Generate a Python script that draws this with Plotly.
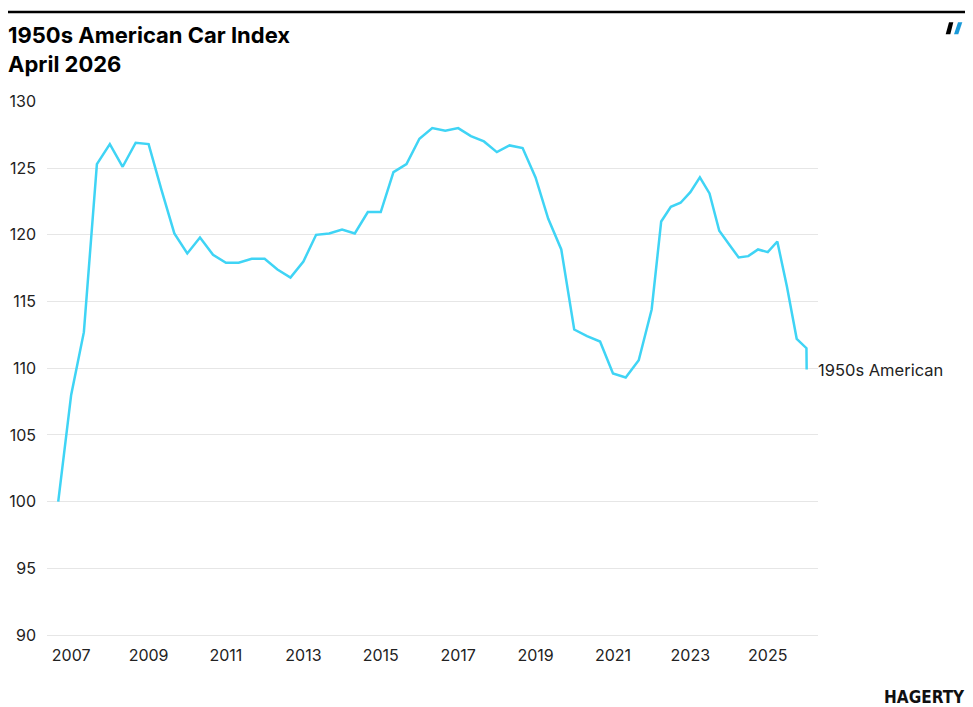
import plotly.graph_objects as go

# ---- data ----
dates = [
    "2006-09-01", "2007-01-01", "2007-05-01", "2007-09-01",
    "2008-01-01", "2008-05-01", "2008-09-01",
    "2009-01-01", "2009-05-01", "2009-09-01",
    "2010-01-01", "2010-05-01", "2010-09-01",
    "2011-01-01", "2011-05-01", "2011-09-01",
    "2012-01-01", "2012-05-01", "2012-09-01",
    "2013-01-01", "2013-05-01", "2013-09-01",
    "2014-01-01", "2014-05-01", "2014-09-01",
    "2015-01-01", "2015-05-01", "2015-09-01",
    "2016-01-01", "2016-05-01", "2016-09-01",
    "2017-01-01", "2017-05-01", "2017-09-01",
    "2018-01-01", "2018-05-01", "2018-09-01",
    "2019-01-01", "2019-05-01", "2019-09-01",
    "2020-01-01", "2020-05-01", "2020-09-01",
    "2021-01-01", "2021-05-01", "2021-09-01",
    "2022-01-01", "2022-04-01", "2022-07-01", "2022-10-01",
    "2023-01-01", "2023-04-01", "2023-07-01", "2023-10-01",
    "2024-01-01", "2024-04-01", "2024-07-01", "2024-10-01",
    "2025-01-01", "2025-04-01", "2025-07-01", "2025-10-01",
    "2026-01-01", "2026-01-03",
]
values = [
    100.0, 108.0, 112.7, 125.3,
    126.8, 125.1, 126.9,
    126.8, 123.4, 120.1,
    118.6, 119.8, 118.5,
    117.9, 117.9, 118.2,
    118.2, 117.4, 116.8,
    118.0, 120.0, 120.1,
    120.4, 120.1, 121.7,
    121.7, 124.7, 125.3,
    127.2, 128.0, 127.8,
    128.0, 127.4, 127.0,
    126.2, 126.7, 126.5,
    124.3, 121.2, 118.9,
    112.9, 112.4, 112.0,
    109.6, 109.3, 110.6,
    114.4, 121.0, 122.1, 122.4,
    123.2, 124.3, 123.1, 120.3,
    119.3, 118.3, 118.4, 118.9,
    118.7, 119.5, 116.1, 112.2,
    111.5, 109.9,
]
series_name = "1950s American"
title_lines = ["1950s American Car Index", "April 2026"]
y_ticks = [90, 95, 100, 105, 110, 115, 120, 125, 130]

# ---- layout helpers (page pixel -> paper); page has an 8px body offset ----
OFF = 8
W, H = 973, 707
L, R, T, B = 47 - OFF, 973 - 818 + OFF, 101 - OFF, 707 - 637 + OFF
PW, PH = W - L - R, H - T - B


def px(x):
    return (x - OFF - L) / PW


def py(y):
    return (H - B - (y - OFF)) / PH


fig = go.Figure()
fig.add_trace(go.Scatter(
    x=dates, y=values, mode="lines", name=series_name,
    line=dict(color="#3fd4f5", width=2.5),
    showlegend=False, hoverinfo="x+y",
))

fig.add_annotation(
    x=dates[-1], y=values[-1], xref="x", yref="y",
    text=series_name, showarrow=False, xanchor="left", yanchor="middle",
    xshift=9, font=dict(family="Inter", size=16.5, color="#222222"),
)

# title
fig.add_annotation(
    xref="paper", yref="paper", x=px(6), y=py(20),
    xanchor="left", yanchor="top", align="left", showarrow=False,
    text="<b>" + title_lines[0] + "</b><br><b>" + title_lines[1] + "</b>",
    font=dict(family="Inter", size=22, color="#000000"),
)

# HAGERTY wordmark
fig.add_annotation(
    xref="paper", yref="paper", x=px(967), y=py(697),
    xanchor="right", yanchor="middle", showarrow=False,
    text="<b>HAGERTY</b>",
    font=dict(family="DejaVu Sans Condensed, Liberation Sans Narrow, Liberation Sans",
              size=17, color="#111111"),
)

shapes = [
    dict(type="line", xref="paper", yref="paper",
         x0=px(8), x1=px(965), y0=py(12), y1=py(12),
         line=dict(color="#000000", width=2.5)),
    dict(type="path", xref="paper", yref="paper",
         path=f"M {px(945.7)} {py(34.3)} L {px(949)} {py(22.3)} L {px(953.3)} {py(22.3)} L {px(950.3)} {py(34.3)} Z",
         fillcolor="#000000", line=dict(width=0)),
    dict(type="path", xref="paper", yref="paper",
         path=f"M {px(954)} {py(34.3)} L {px(958)} {py(22.3)} L {px(962.3)} {py(22.3)} L {px(958.3)} {py(34.3)} Z",
         fillcolor="#1a9ad9", line=dict(width=0)),
]

fig.update_layout(
    width=W, height=H,
    margin=dict(l=L, r=R, t=T, b=B, autoexpand=False),
    paper_bgcolor="white", plot_bgcolor="white",
    shapes=shapes,
    font=dict(family="Inter", size=16, color="#222222"),
    xaxis=dict(
        type="date", range=["2006-05-18", "2026-04-20"],
        tick0="2007-01-01", dtick="M24", tickformat="%Y",
        showgrid=False, zeroline=False, showline=False, ticks="",
        ticklabelstandoff=7,
        tickfont=dict(family="Inter", size=16, color="#222222"),
    ),
    yaxis=dict(
        range=[89.85, 130.03], tickvals=y_ticks,
        showgrid=True, gridcolor="#e6e6e6", gridwidth=1,
        zeroline=False, showline=False, ticks="",
        ticklabelstandoff=10,
        tickfont=dict(family="Inter", size=16, color="#222222"),
    ),
)

fig.write_html("out.html")
